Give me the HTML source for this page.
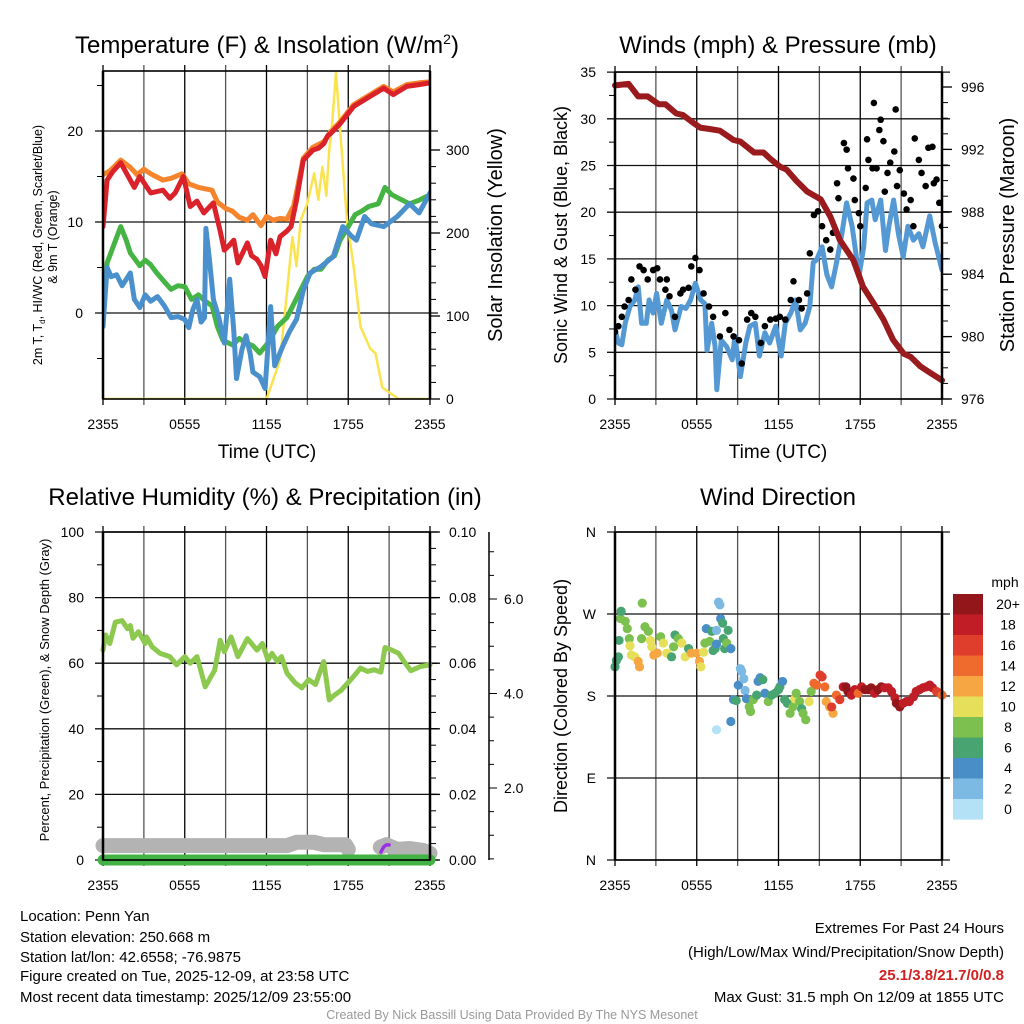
<!DOCTYPE html>
<html><head><meta charset="utf-8"><style>
html,body{margin:0;padding:0;background:#fff;}
svg{display:block;font-family:"Liberation Sans",Arial,sans-serif;}
</style></head><body>
<svg id="chart" width="1024" height="1024" viewBox="0 0 1024 1024" xmlns="http://www.w3.org/2000/svg">
<rect width="1024" height="1024" fill="#fff"/>
<defs>
<clipPath id="c1"><rect x="103" y="71" width="327" height="328"/></clipPath>
<clipPath id="c2"><rect x="615" y="72" width="327" height="327"/></clipPath>
<clipPath id="c3"><rect x="90" y="532" width="355" height="340"/></clipPath>
</defs>
<g id="g1"></g>
<g id="g2"></g>
<g id="g3"></g>
<g id="g4"></g>
<g font-size="15" fill="#000">
<text x="20" y="921">Location: Penn Yan</text>
<text x="20" y="942">Station elevation: 250.668 m</text>
<text x="20" y="962">Station lat/lon: 42.6558; -76.9875</text>
<text x="20" y="981">Figure created on Tue, 2025-12-09, at 23:58 UTC</text>
<text x="20" y="1002">Most recent data timestamp: 2025/12/09 23:55:00</text>
</g>
<g font-size="15" text-anchor="end">
<text x="1004" y="933">Extremes For Past 24 Hours</text>
<text x="1004" y="957">(High/Low/Max Wind/Precipitation/Snow Depth)</text>
<text x="1004" y="980" fill="#d12020" font-weight="bold">25.1/3.8/21.7/0/0.8</text>
<text x="1004" y="1002">Max Gust: 31.5 mph On 12/09 at 1855 UTC</text>
</g>
<text x="512" y="1019" font-size="12.5" fill="#999" text-anchor="middle">Created By Nick Bassill Using Data Provided By The NYS Mesonet</text>
</svg>
<script>
// ---- Temperature panel data ----
const redHours=[0,0.3,0.7,1.3,2,2.3,2.7,3.5,4.4,4.9,5.3,5.9,6.4,6.9,7.4,8.1,8.6,8.9,9.3,9.6,9.9,10.6,10.9,11.3,11.6,11.9,12.3,12.7,13,13.5,13.8,14.2,14.7,15.4,15.8,16.2,16.5,16.7,17.4,18.4,19.6,20.6,21.3,22.3,23.2,24];
const redTemp=[9.5,14.6,15.5,16.5,14.6,13.8,15,13.2,13.5,12.6,13.2,15,11.7,12.3,11,12.1,9,6.9,7.5,8,5.5,7.7,6.3,5.9,5.2,4,8,6.5,8.4,9,9.5,12.4,16.8,17.9,18.1,18.6,19.5,19.7,20.8,22.7,23.8,24.7,24,24.9,25.1,25.3];
const orangeHours=[0,0.5,1.3,2,2.5,3,3.5,4.4,5,5.8,6.3,7,8,8.4,9,9.5,10,10.6,11,11.6,12,12.5,13,13.5,14,14.5,14.7,15.4,16.2,16.7,17.4,18.4,19.6,20.6,21.3,22.3,23.2,24];
const orangeTemp=[15.2,15.6,16.8,16,15.2,15.8,15.3,14.6,14.8,15.3,14.2,13.8,13.5,12.2,11.5,11.2,10.5,10.2,10.8,9.6,10.6,10.2,10.4,10.3,11.8,15.5,17,18.2,18.8,19.9,21,22.9,24,24.9,24.3,25.1,25.3,25.4];
const dewHours=[0,0.3,0.8,1.3,1.7,2,2.4,2.7,3.1,3.5,3.9,4.4,5,5.5,6,6.5,7,7.5,8,8.4,8.8,9.5,10,10.5,11,11.5,12,12.5,12.8,13.5,14,14.5,15,15.5,16,16.5,17,17.4,18,18.5,19,19.5,20.2,20.7,21.2,21.7,22.5,23.2,24];
const dewTemp=[0,5.5,7.5,9.5,8,6.6,5.8,5.2,5.8,5.3,4.5,3.6,2.6,3,2.9,1.5,2,1.3,0.8,-1.5,-3,-3.5,-2.8,-3.3,-3.6,-4.4,-3.5,-2.3,-1.5,-0.5,1,2.5,4,4.8,4.8,5.8,6.3,8,9.5,10.8,11.2,11.7,12,13.8,13,12.6,12,12.4,13];
const wcHours=[0,0.3,0.6,1,1.4,2,2.3,2.7,3.1,3.5,4,4.5,5,5.5,6,6.3,6.6,6.9,7.2,7.45,7.55,7.8,8.1,8.5,8.9,9.3,9.6,9.8,10.2,10.5,10.8,11,11.5,11.9,12.3,12.6,13.2,13.7,14.2,14.7,15.2,16,16.9,17.6,18.2,18.6,19.2,19.7,20.6,21.6,22.5,23.2,24];
const wcTemp=[-1.5,5,4,4.2,3,4.4,1.5,0.6,2,1.3,1.8,0.8,-0.5,-0.4,-0.7,-1.6,0.4,1.5,-1,-0.5,9.3,6,1.5,-0.5,-3.3,3.7,-2,-7.2,-4,-2.5,-4.5,-6.5,-7,-8.3,0.7,-5.8,-3.6,-2,-0.7,2.5,4.4,5.1,6.2,9.5,8.5,8,10.6,9.8,9.5,10.6,12,11,13.2];
const solarHours=[0,12,13,13.5,13.9,14.2,14.5,15,15.5,15.8,16.1,16.4,16.6,16.8,17.1,17.3,17.9,18.4,18.9,19.6,20,20.5,21,21.7,24];
const solarWm2=[0,0,47,128,195,160,215,236,272,240,280,245,300,328,394,348,216,159,87,61,55,14,8,0,0];
const tempTicks=[0,10,20];
const solarTicks=[0,100,200,300];
const timeLabels=["2355","0555","1155","1755","2355"];
// ---- Winds panel data ----
const windHours=[0,0.25,0.5,0.75,1.1,1.45,1.7,1.95,2.3,2.5,2.8,3.05,3.4,3.8,4.15,4.4,4.85,5.2,5.55,5.9,6.3,6.6,6.75,7.1,7.35,7.47,7.8,8.2,8.6,8.8,9.2,9.6,9.9,10.3,10.6,11,11.35,11.8,12.2,12.5,12.9,13.25,13.6,13.95,14.3,14.55,14.8,15.2,15.55,15.9,16.3,16.65,17.0,17.4,17.65,17.9,18.25,18.5,18.85,19.1,19.5,19.85,20.1,20.45,20.8,21.15,21.5,21.9,22.3,22.6,23.1,23.5,24];
const windMph=[7.4,6,5.8,8.1,9.9,10.6,12,8.1,8.1,10.6,9.2,11.3,8.1,10.6,9.5,7.4,9.9,9.7,10.6,12.4,10.6,10.2,5.2,8.1,5.6,1,6.3,5.6,4.2,6.7,2.4,6,7.8,8.1,4.6,7.1,6,7.8,4.6,8.1,9.2,10.6,7.4,8.1,9.9,14.6,14.9,16.3,13.3,12,14.9,17.7,21,18.5,15.9,13.1,16.3,21,21.3,19.2,21.3,15.9,18.5,21.3,17.7,15.2,18.5,17,17.7,16.3,19.6,16.7,13.8];
const gustHours=[0,0.25,0.5,0.7,1,1.2,1.5,1.8,2.1,2.4,2.8,3.1,3.3,3.7,3.8,4,4.4,4.8,5,5.4,5.6,5.9,6.2,6.5,6.9,7.2,7.7,8.1,8.4,8.7,9.1,9.3,9.7,10,10.3,10.7,11,11.4,11.8,12.1,12.5,12.9,13.1,13.5,13.7,14.1,14.3,14.6,14.9,15.2,15.5,15.8,16,16.3,16.4,16.8,17,17.1,17.5,17.6,17.9,18,18.4,18.5,18.6,18.9,19,19.2,19.4,19.5,19.7,19.8,20,20.2,20.5,20.6,20.7,20.9,21.2,21.4,21.7,21.9,22,22.3,22.5,22.8,23,23.3,23.4,23.6,23.8,24];
const gustMph=[7.2,7.8,8.8,9.9,10.6,12.8,11.7,14.2,13.8,12.8,13.8,14,12.8,11.7,12.8,11,8.8,11.3,11.7,11.9,14.2,15.1,13.8,11.3,9.9,8.8,6.7,9.2,7.4,6.7,6.3,3.8,8.5,9.2,8.8,6,7.8,8.5,8.6,8.8,8.5,10.6,12.6,10.6,9.7,11.3,15.6,19.7,20.1,18.5,17,16,17.8,23.1,21.5,27.4,26.7,24.7,23.6,21.3,19.9,18.5,22.6,27.8,25.6,24.7,31.7,24.7,28.8,29.9,27.6,22.2,24.2,25.3,26.5,31,22.8,24.5,22,20.3,21.3,18.5,27.9,25.6,24.2,22.8,26.9,27,23.1,23.5,21,18.5];
const presHours=[0,1,1.7,2.4,3.2,3.7,4.5,5,5.75,6.25,7,7.7,8.7,9.2,10.2,10.9,11.4,12.1,12.6,13.3,14.1,15.1,15.8,16.5,17.5,18.2,19,19.7,20.4,21.2,21.7,22.4,23.1,24];
const presMb=[996.1,996.2,995.4,995.4,994.9,994.9,994.3,994.2,993.7,993.4,993.3,993.2,992.6,992.5,991.8,991.8,991.4,990.9,990.7,990,989.3,988.8,987.7,986.2,984.9,983.2,982.1,981.1,979.8,978.9,978.7,978.1,977.7,977.2];
const windTicks=[0,5,10,15,20,25,30,35];
const presTicks=[976,980,984,988,992,996];
// ---- Humidity panel data ----
const rhHours=[0,0.2,0.5,0.9,1.4,1.8,2.0,2.2,2.6,3.1,3.2,3.6,4.2,4.9,5.4,6.0,6.4,6.9,7.5,8.2,8.6,8.9,9.4,9.9,10.6,11.3,11.7,12.1,12.4,12.8,13.1,13.5,14.1,14.6,15.1,15.6,16.2,16.6,16.9,17.5,18.4,18.9,19.4,19.9,20.4,20.7,21.2,21.7,22.1,22.6,23.3,24];
const rhPct=[64,68.6,66,72.5,73,70.5,71.5,67.6,69.6,66,68,65,63,62,59.5,62,60,62,52.8,57.9,67,63.5,68,62,67.5,64,66,61,63,60.5,62,57,54,52.5,55,53.5,60.5,48.8,50,51.8,56,58.5,57.5,58,57.3,64.8,64,63,60.5,57.7,59,59.5];
const snowHours=[0,13.5,14.2,15.5,16.2,17.8,18.0];
const snowDepth=[0.78,0.78,0.85,0.85,0.8,0.8,0.7];
const snow2Hours=[20.35,20.8,21.2,21.6,22.5,23.5,24];
const snow2Depth=[0.75,0.8,0.75,0.7,0.72,0.68,0.62];
const precipHours=[20.4,20.6,20.8,21.0];
const precipIn=[0.0024,0.0040,0.0046,0.0046];
const rhTicks=[0,20,40,60,80,100];
const precipTicks=["0.00","0.02","0.04","0.06","0.08","0.10"];
const snowTicks=["2.0","4.0","6.0"];
// ---- Wind direction data ----
const dirHours=[0,0.1,0.25,0.3,0.4,0.45,0.75,0.9,1.05,1.1,1.2,1.45,1.7,1.8,1.95,2.0,2.2,2.45,2.6,2.7,2.85,3.1,3.35,3.55,3.8,4.15,4.3,4.4,4.65,4.9,5.15,5.4,5.6,6.0,6.2,6.3,6.5,6.6,6.7,6.95,7.1,7.2,7.35,7.45,7.45,7.6,7.7,7.75,7.9,7.95,8.05,8.2,8.3,8.5,7.45,8.5,8.7,8.9,9.05,9.2,9.3,9.45,9.55,9.65,9.85,9.95,10.15,10.4,10.5,10.65,10.85,11.0,11.25,11.5,11.75,12.0,12.1,12.3,12.45,12.65,12.85,13.05,13.2,13.3,13.55,13.7,13.8,14.0,14.25,14.4,14.6,14.8,15.05,15.2,15.4,15.5,15.75,16.0,15.9,16.25,16.5,16.75,16.95,17.1,17.35,17.6,17.85,18.1,18.35,18.6,18.8,19.05,19.3,19.55,19.8,20.05,20.3,20.55,20.65,20.9,21.15,21.4,21.6,21.9,22.1,22.35,22.6,22.85,23.1,23.3,23.6,23.85,24.0];
const dirDeg=[212,219,223,241,265,273,262,254,243,235,225,223,218,212,243,282,256,251,241,234,225,227,245,238,227,223,234,247,243,238,223,232,227,227,218,212,228,238,254,240,251,230,232,252,237,283,280,265,260,243,232,238,252,232,143,152,176,175,192,210,207,199,186,177,168,163,176,181,196,200,198,183,174,181,183,187,190,196,176,172,161,168,177,183,174,166,161,154,174,185,194,192,203,201,190,174,168,161,168,181,176,190,190,185,181,187,183,190,187,187,189,183,187,190,189,189,185,178,172,168,172,174,174,179,185,187,189,190,192,189,185,183,181];
const dirSpeed=[6,6,6,6,8,6,8,8,8,10,10,10,12,12,8,8,8,8,10,10,12,12,8,10,10,6,8,6,8,10,10,6,12,12,12,10,10,8,4,8,6,6,6,2,4,2,2,4,6,6,6,8,6,4,0,4,4,6,4,2,2,2,2,4,8,8,8,6,4,4,6,4,8,6,6,6,6,4,6,6,8,8,10,8,8,6,8,8,10,8,14,14,16,16,14,12,12,12,16,14,16,18,20,20,18,18,14,18,20,20,20,18,20,20,18,18,18,18,20,20,18,18,18,18,18,18,18,18,18,18,16,16,14];
const dirLabels=["N","W","S","E","N"];
const legendLabels=["20+","18","16","14","12","10","8","6","4","2","0"];
const binColors=["#b3e1f6","#7cb9e3","#4a8ec7","#48a572","#7cc04f","#e6df59","#f6a744","#ef6a2d","#e03e2d","#c11d27","#93161b"];

const NS="http://www.w3.org/2000/svg";
function mk(parent,tag,attrs){const e=document.createElementNS(NS,tag);for(const k in attrs)e.setAttribute(k,attrs[k]);parent.appendChild(e);return e;}
function txt(parent,x,y,s,size,anchor,extra){const e=mk(parent,"text",Object.assign({x:x,y:y,"font-size":size,"text-anchor":anchor||"middle",fill:"#000"},extra||{}));e.textContent=s;return e;}
function pathFrom(hs,vs,xf,yf){let d="";for(let i=0;i<hs.length;i++){d+=(i?"L":"M")+xf(hs[i]).toFixed(1)+","+yf(vs[i]).toFixed(1);}return d;}

// common frame drawing
function frame(g,L,T,R,B,hLines,xf){
  for(let h=0;h<=24;h+=3){const x=xf(h);
    const l=mk(g,"line",{x1:x,y1:T-6,x2:x,y2:B+6,stroke:(h%6==0?"#000":"#555"),"stroke-width":1.3});
    
    }
  hLines.forEach(y=>{const l=mk(g,"line",{x1:L-8,y1:y,x2:R+8,y2:y,stroke:"#111","stroke-width":1.3});
    
    });
}
function border(g,L,T,R,B){
  const r=mk(g,"rect",{x:L,y:T,width:R-L,height:B-T,fill:"none",stroke:"#000","stroke-width":1.6});
  
  
  mk(g,"line",{x1:L,y1:T,x2:L,y2:B,stroke:"#000","stroke-width":2.5});
  mk(g,"line",{x1:R,y1:T,x2:R,y2:B,stroke:"#000","stroke-width":2.5});
}
function xLabels(g,xf,y){timeLabels.forEach((s,i)=>{const t=txt(g,xf(i*6),y,s,14);
  
  });}
function minorTicks(g,x,dir,yStart,yEnd,step,len){for(let y=yStart;y<=yEnd+0.1;y+=step){mk(g,"line",{x1:x,y1:y,x2:x+dir*len,y2:y,stroke:"#000","stroke-width":1});}}

// ===== Panel 1 =====
(function(){
const g=document.getElementById("g1");
const L=103,R=430,T=71,B=399;
const x=h=>L+h*(R-L)/24, y=v=>313-v*9.1, yR=w=>399-w*0.83;
frame(g,L,T,R,B,tempTicks.map(y),x);
minorTicks(g,L,-1,y(25),y(-5),45.5,6);
minorTicks(g,R,1,yR(300),yR(0),16.6,6);
solarTicks.forEach(v=>{mk(g,"line",{x1:R,y1:yR(v),x2:R+10,y2:yR(v),stroke:"#000","stroke-width":1.3});});
const cg=mk(g,"g",{"clip-path":"url(#c1)"});
function series(hs,vs,yf,color,w,name){const p=mk(cg,"path",{d:pathFrom(hs,vs,x,yf),fill:"none",stroke:color,"stroke-width":w,"stroke-linejoin":"round","stroke-linecap":"round"});
  
  }
series(solarHours,solarWm2,yR,"#fbe34e",2.5,"solar-line");
series(orangeHours,orangeTemp,y,"#f5842c",5,"temp-9m-line");
series(dewHours,dewTemp,y,"#45b444",5,"dewpoint-line");
series(wcHours,wcTemp,y,"#4a90cc",5,"windchill-line");
series(redHours,redTemp,y,"#d9222a",5,"temp-2m-line");
border(g,L,T,R,B);
tempTicks.forEach(v=>{const t=txt(g,83,y(v)+5,String(v),14,"end");
  
  });
solarTicks.forEach(v=>{const t=txt(g,446,yR(v)+5,String(v),14,"start");
  
  });
xLabels(g,x,429);
const tt=txt(g,267,53,"",24);tt.innerHTML='Temperature (F) &amp; Insolation (W/m<tspan dy="-9" font-size="14">2</tspan><tspan dy="9">)</tspan>';


const xt=txt(g,267,458,"Time (UTC)",19);


const yl=txt(g,0,0,"",12.5,"middle",{transform:"translate(42,245) rotate(-90)"});
yl.innerHTML='2m T, T<tspan dy="3" font-size="8">d</tspan><tspan dy="-3">, HI/WC (Red, Green, Scarlet/Blue)</tspan>';


const yl2=txt(g,0,0,"& 9m T (Orange)",12.5,"middle",{transform:"translate(57,237) rotate(-90)"});


const yr=txt(g,0,0,"Solar Insolation (Yellow)",20,"middle",{transform:"translate(502,235) rotate(-90)"});


})();

// ===== Panel 2 =====
(function(){
const g=document.getElementById("g2");
const L=615,R=942,T=72,B=399;
const x=h=>L+h*(R-L)/24, y=v=>399-v*9.34, yR=p=>399-(p-976)*15.6;
frame(g,L,T,R,B,windTicks.map(y),x);
minorTicks(g,L,-1,y(32.5),y(2.5),46.7,6);
minorTicks(g,R,1,yR(996),yR(976),15.6,6);
presTicks.forEach(p=>{mk(g,"line",{x1:R,y1:yR(p),x2:R+10,y2:yR(p),stroke:"#000","stroke-width":1.3});});
const cg=mk(g,"g",{"clip-path":"url(#c2)"});
const wl=mk(cg,"path",{d:pathFrom(windHours,windMph,x,y),fill:"none",stroke:"#5499d3","stroke-width":5,"stroke-linejoin":"round","stroke-linecap":"round"});


gustHours.forEach((h,i)=>{const c=mk(cg,"circle",{cx:x(h),cy:y(gustMph[i]),r:3.3,fill:"#000"});
  
  });
const pl=mk(g,"path",{d:pathFrom(presHours,presMb,x,yR),fill:"none",stroke:"#9a1b1e","stroke-width":6,"stroke-linejoin":"round","stroke-linecap":"round"});


border(g,L,T,R,B);
windTicks.forEach(v=>{const t=txt(g,596,y(v)+5,String(v),14,"end");
  
  });
presTicks.forEach(p=>{const t=txt(g,961,yR(p)+5,String(p),14,"start");
  
  });
xLabels(g,x,429);
const tt=txt(g,778,53,"Winds (mph) & Pressure (mb)",24);


const xt=txt(g,778,458,"Time (UTC)",19);


const yl=txt(g,0,0,"Sonic Wind & Gust (Blue, Black)",18,"middle",{transform:"translate(567,235) rotate(-90)"});


const yr=txt(g,0,0,"Station Pressure (Maroon)",20,"middle",{transform:"translate(1014,235) rotate(-90)"});


})();

// ===== Panel 3 =====
(function(){
const g=document.getElementById("g3");
const L=103,R=430,T=532,B=860;
const x=h=>L+h*(R-L)/24, y=v=>860-v*3.28, yS=s=>882.5-s*47.25, yP=p=>860-p*3280;
frame(g,L,T,R,B,rhTicks.map(y),x);
minorTicks(g,L,-1,y(90),y(10),65.6,6);
minorTicks(g,R,1,T,B,16.4,6);
rhTicks.forEach(v=>{mk(g,"line",{x1:R,y1:y(v),x2:R+10,y2:y(v),stroke:"#000","stroke-width":1.3});});
const sa=mk(g,"line",{x1:489,y1:532,x2:489,y2:860,stroke:"#000","stroke-width":1.5});


for(let s=0.5;s<=7;s+=0.5){const yy=yS(s);if(yy>=532&&yy<=860)mk(g,"line",{x1:489,y1:yy,x2:489+(s%2==0?8:5),y2:yy,stroke:"#000","stroke-width":1});}
const s1=mk(g,"path",{d:pathFrom(snowHours,snowDepth,x,yS),fill:"none",stroke:"#b3b3b3","stroke-width":15,"stroke-linejoin":"round","stroke-linecap":"round"});


const s2=mk(g,"path",{d:pathFrom(snow2Hours,snow2Depth,x,yS),fill:"none",stroke:"#b3b3b3","stroke-width":15,"stroke-linejoin":"round","stroke-linecap":"round"});


const rl=mk(g,"path",{d:pathFrom(rhHours,rhPct,x,y),fill:"none",stroke:"#8dc84f","stroke-width":5,"stroke-linejoin":"round","stroke-linecap":"round"});


const pz=mk(g,"line",{x1:x(0),y1:yP(0),x2:x(24),y2:yP(0),stroke:"#43b244","stroke-width":11,"stroke-linecap":"round"});


const pp=mk(g,"path",{d:pathFrom(precipHours,precipIn,x,yP),fill:"none",stroke:"#9b30e6","stroke-width":3.5,"stroke-linecap":"round","stroke-linejoin":"round"});


border(g,L,T,R,B);
rhTicks.forEach(v=>{const t=txt(g,84,y(v)+5,String(v),14,"end");
  
  });
precipTicks.forEach((s,i)=>{const t=txt(g,449,y(i*20)+5,s,14,"start");
  
  });
snowTicks.forEach((s,i)=>{const t=txt(g,504,yS((i+1)*2)+5,s,14,"start");
  
  });
xLabels(g,x,890);
const tt=txt(g,265,505,"Relative Humidity (%) & Precipitation (in)",24);


const yl=txt(g,0,0,"Percent, Precipitation (Green), & Snow Depth (Gray)",13,"middle",{transform:"translate(49,690) rotate(-90)"});


})();

// ===== Panel 4 =====
(function(){
const g=document.getElementById("g4");
const L=615,R=942,T=532,B=860;
const x=h=>L+h*(R-L)/24, y=d=>860-d*328/360;
frame(g,L,T,R,B,[0,90,180,270,360].map(y),x);
dirHours.forEach((h,i)=>{const b=Math.min(10,Math.max(0,Math.floor(dirSpeed[i]/2)));
  const c=mk(g,"circle",{cx:x(h),cy:y(dirDeg[i]),r:4.6,fill:binColors[b]});
  
  });
border(g,L,T,R,B);
dirLabels.forEach((s,i)=>{const t=txt(g,596,y(360-i*90)+5,s,14,"end");
  
  });
xLabels(g,x,890);
const tt=txt(g,778,505,"Wind Direction",24);


const yl=txt(g,0,0,"Direction (Colored By Speed)",18,"middle",{transform:"translate(567,696) rotate(-90)"});


const lt=txt(g,1005,587,"mph",14,"middle");


legendLabels.forEach((s,i)=>{const yy=594+i*20.5;
  const r=mk(g,"rect",{x:953,y:yy,width:30,height:20.6,fill:binColors[10-i]});
  
  
  const t=txt(g,1008,yy+15,s,14,"middle");
  
  });
})();
</script>
</body></html>
